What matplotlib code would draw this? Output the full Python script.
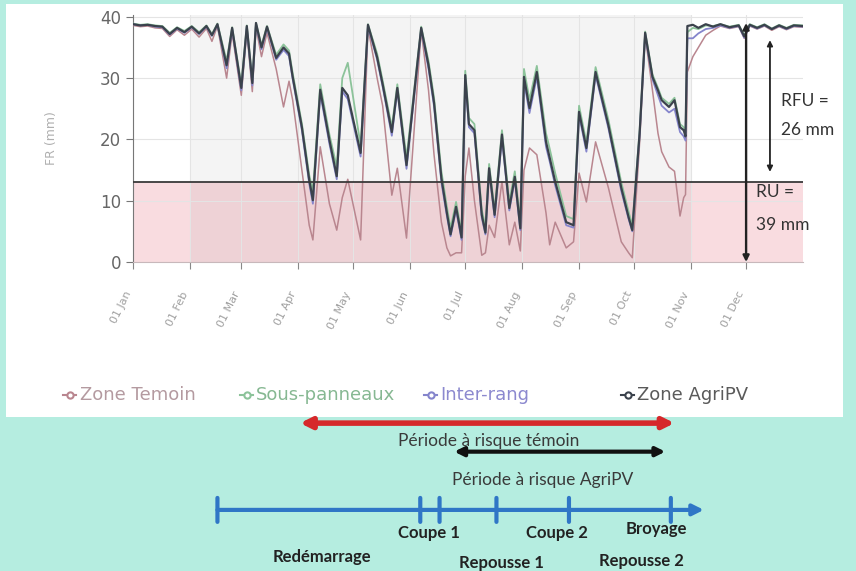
import matplotlib
matplotlib.use("Agg")
import matplotlib.pyplot as plt
from matplotlib.lines import Line2D
from matplotlib.patches import Rectangle

# ---------------- data (day of year, water reserve in mm) ----------------
days = [0, 4, 8, 12, 16, 20, 24, 28, 32, 36, 40, 43, 46, 51, 54, 59, 62, 65, 67, 70,
        73, 78, 82, 85, 87, 92, 96, 98, 102, 107, 111, 114, 117, 124, 128, 133, 136,
        141, 144, 149, 157, 161, 164, 168, 171, 173, 176, 179, 181, 183, 186, 190,
        192, 194, 197, 201, 205, 208, 211, 213, 216, 220, 225, 227, 230, 236, 240,
        243, 247, 252, 259, 266, 270, 272, 276, 279, 283, 286, 288, 292, 295, 298,
        300, 301, 302, 305, 308, 312, 316, 320, 325, 330, 333, 336, 340, 344, 348,
        352, 356, 360, 365]

agripv = [38.8, 38.6, 38.7, 38.5, 38.4, 37.2, 38.2, 37.5, 38.4, 37.3, 38.5, 37.0, 38.8,
          32.1, 38.2, 28.4, 38.5, 29.2, 39.0, 35.0, 38.4, 33.3, 35.0, 34.0, 30.2, 22.0,
          13.4, 10.1, 28.1, 19.9, 14.0, 28.4, 27.2, 17.8, 38.7, 33.4, 29.0, 21.2, 28.4,
          15.8, 38.2, 32.1, 26.0, 13.7, 8.0, 4.5, 9.0, 4.0, 30.5, 22.5, 21.5, 7.7, 4.8,
          15.3, 7.7, 20.8, 8.8, 13.9, 5.5, 30.2, 25.1, 31.0, 19.6, 17.0, 13.1, 6.5, 6.0,
          24.5, 18.6, 31.0, 22.3, 12.1, 7.3, 5.2, 21.0, 37.4, 30.2, 28.0, 26.4, 25.3,
          26.4, 22.0, 21.5, 20.5, 38.5, 38.7, 38.2, 38.8, 38.4, 38.8, 38.3, 38.6, 36.8,
          38.7, 38.2, 38.7, 38.0, 38.6, 38.1, 38.6, 38.5]

temoin = [38.6, 38.4, 38.5, 38.2, 38.1, 36.8, 37.9, 37.0, 38.0, 36.7, 38.1, 36.0, 38.5,
          30.0, 37.4, 27.2, 37.6, 27.8, 38.3, 33.5, 37.4, 31.5, 25.3, 29.5, 26.4, 15.0,
          6.0, 3.6, 18.8, 9.5, 5.2, 10.5, 13.5, 3.6, 38.3, 30.0, 25.5, 10.9, 15.3, 3.9,
          37.8, 28.0, 17.5, 6.5, 2.3, 1.0, 1.5, 1.5, 14.0, 18.6, 10.0, 1.1, 1.5, 6.0,
          4.0, 13.1, 2.8, 6.5, 1.8, 15.0, 18.6, 17.5, 8.0, 2.8, 6.5, 2.3, 3.3, 14.5,
          9.8, 19.6, 12.1, 3.3, 1.5, 0.7, 19.5, 37.0, 28.0, 21.0, 18.0, 15.5, 14.8, 7.5,
          10.5, 11.0, 31.0, 33.5, 35.0, 37.0, 37.8, 38.5, 38.1, 38.4, 36.5, 38.5, 38.0,
          38.5, 37.8, 38.4, 37.9, 38.4, 38.3]

sous_panneaux = [38.9, 38.7, 38.8, 38.6, 38.5, 37.4, 38.3, 37.7, 38.5, 37.5, 38.6, 37.2,
                 38.9, 32.8, 38.3, 29.0, 38.6, 29.8, 39.0, 35.4, 38.5, 33.8, 35.5, 34.5,
                 30.8, 22.6, 14.2, 11.5, 29.0, 20.8, 15.5, 30.0, 32.5, 19.0, 38.8, 34.0,
                 29.6, 22.0, 29.0, 17.0, 38.4, 32.8, 26.8, 14.8, 9.0, 5.5, 9.8, 4.8, 31.2,
                 23.5, 22.5, 8.5, 5.8, 16.0, 8.5, 21.5, 9.8, 14.8, 6.5, 31.5, 26.5, 32.0,
                 21.0, 18.5, 14.5, 7.5, 7.0, 25.5, 19.5, 31.8, 23.2, 13.0, 8.2, 6.0, 21.5,
                 37.6, 30.6, 28.4, 26.8, 25.8, 26.8, 22.5, 22.0, 21.0, 37.5, 38.2, 38.0,
                 38.6, 38.5, 38.8, 38.4, 38.7, 37.0, 38.8, 38.3, 38.8, 38.1, 38.7, 38.2,
                 38.7, 38.6]

inter_rang = [38.8, 38.6, 38.7, 38.4, 38.3, 37.1, 38.1, 37.4, 38.3, 37.2, 38.4, 36.9,
              38.7, 31.6, 38.0, 28.0, 38.3, 28.8, 38.8, 34.7, 38.2, 33.0, 34.6, 33.6,
              29.8, 21.5, 12.8, 9.5, 27.5, 19.3, 13.5, 27.8, 26.6, 17.2, 38.5, 33.0,
              28.6, 20.6, 28.0, 15.2, 38.0, 31.5, 25.4, 13.0, 7.5, 4.2, 8.5, 3.6, 29.8,
              22.0, 21.0, 7.2, 4.5, 14.8, 7.3, 20.2, 8.4, 13.4, 5.2, 29.5, 24.3, 30.2,
              18.8, 16.4, 12.5, 6.0, 5.6, 24.0, 18.0, 30.5, 21.8, 11.6, 7.0, 5.0, 20.8,
              37.2, 29.8, 27.2, 25.5, 24.4, 25.0, 21.2, 20.5, 19.8, 36.5, 36.5, 37.3,
              38.0, 38.2, 38.6, 38.2, 38.5, 36.6, 38.6, 38.1, 38.6, 38.0, 38.5, 38.0,
              38.5, 38.4]

month_days = [0, 31, 59, 90, 120, 151, 181, 212, 243, 273, 304, 334]
month_labels = ["01 Jan", "01 Feb", "01 Mar", "01 Apr", "01 May", "01 Jun",
                "01 Jul", "01 Aug", "01 Sep", "01 Oct", "01 Nov", "01 Dec"]

ru_mm = 39
rfu_mm = 26
seuil_mm = 13
season_start, season_end = 31, 304

series_names = ["Zone Temoin", "Sous-panneaux", "Inter-rang", "Zone AgriPV"]
series_colors = ["#b9868f", "#8cc39a", "#8585cc", "#3b424c"]
legend_text_colors = ["#b49aa0", "#86b892", "#8c89cf", "#5a5a5a"]

# lower diagram
risk_temoin = (91, 295)
risk_agripv = (175, 290)
timeline_start, timeline_end = 46, 311
timeline_ticks = [46, 156.5, 167, 198, 237.5, 293]
stage_labels = ["Coupe 1", "Coupe 2", "Broyage", "Redémarrage", "Repousse 1", "Repousse 2"]
stage_days = [161, 231, 285, 103, 200.5, 277]
stage_rows = [0.066, 0.066, 0.073, 0.024, 0.014, 0.018]

# ---------------- figure ----------------
fig = plt.figure(figsize=(8.56, 5.71), dpi=100)
fig.patch.set_facecolor("#b5ede0")
fig.add_artist(Rectangle((6 / 856, 1 - 417 / 571), 837 / 856, 413 / 571,
                         transform=fig.transFigure, facecolor="white",
                         edgecolor="none", zorder=0))

ax = fig.add_axes([133 / 856, 1 - 262 / 571, 670 / 856, 247 / 571])
ax.set_facecolor("white")
ax.set_xlim(0, 365)
ax.set_ylim(0, 40.3)

ax.axhspan(0, seuil_mm, color="#f9dce0", zorder=0, lw=0)
ax.axvspan(season_start, season_end, color="black", alpha=0.045, zorder=0.5, lw=0)
ax.grid(True, color="#e4e4e4", lw=0.8, zorder=0.6)
ax.set_axisbelow(True)

series = [temoin, sous_panneaux, inter_rang, agripv]
lws = [1.1, 1.3, 1.3, 1.6]
for vals, col, lw in zip(series, series_colors, lws):
    ax.plot(days, vals, color=col, lw=lw, zorder=3)

ax.axhline(seuil_mm, color="#3a3a3a", lw=1.3, zorder=4)

for s in ["top", "right"]:
    ax.spines[s].set_visible(False)
ax.spines["left"].set_color("#777777")
ax.spines["bottom"].set_color("#c8b8bb")

ax.set_xticks(month_days)
ax.set_xticklabels(month_labels, rotation=64, ha="right", va="top",
                   fontsize=8, color="#a0a0a0")
ax.tick_params(axis="x", length=5, color="#888888", pad=15)
ax.set_yticks([0, 10, 20, 30, 40])
ax.tick_params(axis="y", labelsize=12, labelcolor="#666666", length=5,
               color="#777777")
ax.set_ylabel("FR (mm)", color="#b0b0b0", fontsize=9, labelpad=30)

# RU / RFU arrows
ax.annotate("", xy=(334, ru_mm), xytext=(334, 0),
            arrowprops=dict(arrowstyle="<|-|>", color="#222222", lw=1.7,
                            mutation_scale=9, shrinkA=0, shrinkB=0),
            annotation_clip=False, zorder=6)
ax.annotate("", xy=(347, 36.2), xytext=(347, 14.7),
            arrowprops=dict(arrowstyle="<|-|>", color="#222222", lw=1.3,
                            mutation_scale=8, shrinkA=0, shrinkB=0),
            annotation_clip=False, zorder=6)
ax.text(353, 26.3, "RFU =", fontsize=12.5, color="#333333", family="Lato",
        va="center", clip_on=False)
ax.text(353, 21.6, f"{rfu_mm} mm", fontsize=12.5, color="#333333", family="Lato",
        va="center", clip_on=False)
ax.text(339.5, 11.4, "RU =", fontsize=12.5, color="#333333", family="Lato",
        va="center", clip_on=False)
ax.text(339.5, 6.0, f"{ru_mm} mm", fontsize=12.5, color="#333333", family="Lato",
        va="center", clip_on=False)

# legend
leg_y = 1 - 395 / 571
leg_marker_x = [70, 247, 431, 628]
leg_text_x = [80, 256, 440, 637]
for name, col, tcol, mx, tx in zip(series_names, series_colors, legend_text_colors,
                                   leg_marker_x, leg_text_x):
    fig.add_artist(Line2D([(mx - 7) / 856, mx / 856, (mx + 6) / 856],
                          [leg_y, leg_y, leg_y], transform=fig.transFigure,
                          color=col, lw=1.5, marker="o", markersize=4.5,
                          markevery=[1], markerfacecolor="white",
                          markeredgecolor=col, markeredgewidth=1.5))
    fig.text(tx / 856, leg_y, name, color=tcol, fontsize=13, va="center",
             ha="left")

# lower diagram (x in date coordinates of the chart, y in figure fraction)
coords = ("data", "figure fraction")
ax.annotate("", xy=(risk_temoin[0], 0.259), xytext=(risk_temoin[1], 0.259),
            xycoords=coords, textcoords=coords, annotation_clip=False,
            arrowprops=dict(arrowstyle="<|-|>", color="#d6282b", lw=4,
                            mutation_scale=16, shrinkA=0, shrinkB=0))
ax.annotate("Période à risque témoin", xy=(194, 0.227), xycoords=coords,
            ha="center", va="center", fontsize=12.5, color="#3a3a3a",
            family="Lato", annotation_clip=False)
ax.annotate("", xy=(risk_agripv[0], 0.209), xytext=(risk_agripv[1], 0.209),
            xycoords=coords, textcoords=coords, annotation_clip=False,
            arrowprops=dict(arrowstyle="<|-|>", color="#111111", lw=3,
                            mutation_scale=13, shrinkA=0, shrinkB=0))
ax.annotate("Période à risque AgriPV", xy=(223, 0.16), xycoords=coords,
            ha="center", va="center", fontsize=12.5, color="#3a3a3a",
            family="Lato", annotation_clip=False)

ax.annotate("", xy=(timeline_end, 0.107), xytext=(timeline_start, 0.107),
            xycoords=coords, textcoords=coords, annotation_clip=False,
            arrowprops=dict(arrowstyle="-|>", color="#2f76c6", lw=3,
                            mutation_scale=16, shrinkA=0, shrinkB=0))
for d in timeline_ticks:
    ax.annotate("", xy=(d, 0.128), xytext=(d, 0.086), xycoords=coords,
                textcoords=coords, annotation_clip=False,
                arrowprops=dict(arrowstyle="-", color="#2f76c6", lw=3,
                                shrinkA=0, shrinkB=0))
for lab, d, yy in zip(stage_labels, stage_days, stage_rows):
    ax.annotate(lab, xy=(d, yy), xycoords=coords, ha="center", va="center",
                fontsize=12, color="#222222", family="Lato", weight="bold",
                annotation_clip=False)

fig.savefig("out.png", dpi=100, facecolor=fig.get_facecolor())
